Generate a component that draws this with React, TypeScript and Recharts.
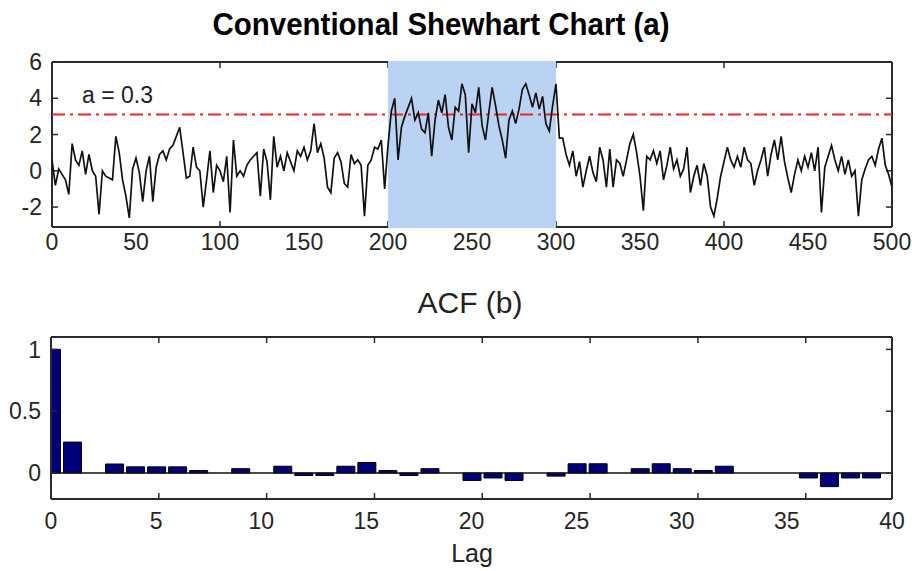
import React from 'react'
import {
  ComposedChart,
  Line,
  Bar,
  XAxis,
  YAxis,
  ReferenceArea,
  ReferenceLine,
} from 'recharts'

// (a) Shewhart chart: one value every 2 samples
const sampleStep = 2
const shewhartValues = [
  0.6, -0.8, 0.1, -0.2, -0.5, -1.3, 1.5, 0.6, 0.3, 1.1,
  -0.2, 0.9, 0.0, -0.3, -2.4, 0.0, -0.3, -0.4, -0.5, 1.9,
  1.0, -0.5, -1.4, -2.6, 0.1, 0.7, -0.1, -1.7, 0.0, 0.8,
  -1.7, 0.2, 0.9, 1.1, 0.6, 1.2, 1.4, 1.9, 2.4, 1.0,
  -0.4, -0.3, 1.3, 0.2, 0.0, -2.0, -0.5, 1.1, -1.2, 0.3,
  0.0, -0.6, 0.8, -2.3, 1.7, -0.3, 0.0, -0.3, 0.3, 0.6,
  0.8, 1.0, -1.4, 1.2, 0.5, -1.6, 1.9, 0.2, 0.8, 0.0,
  1.0, 0.5, 0.0, 1.1, 0.8, 1.3, 0.6, 1.1, 2.6, 1.0,
  1.5, 0.7, -0.9, -1.2, 0.7, 1.0, 0.5, -0.7, -0.9, 0.9,
  0.4, 0.6, 0.3, -2.5, 0.3, 0.6, 1.3, 1.2, 1.7, -1.0,
  1.4, 3.3, 4.0, 0.6, 2.4, 3.0, 3.5, 4.0, 2.8, 3.2,
  2.3, 2.1, 3.2, 0.8, 2.8, 3.9, 3.2, 4.2, 2.4, 1.7,
  3.5, 3.3, 4.8, 4.2, 1.0, 3.7, 3.2, 4.6, 2.5, 1.7,
  3.2, 4.6, 3.6, 2.5, 1.7, 0.7, 2.8, 3.3, 2.6, 3.4,
  4.5, 4.8, 4.2, 3.5, 4.3, 3.4, 4.1, 2.6, 2.2, 3.6,
  4.8, 1.8, 1.8, 0.9, 0.3, 1.1, -0.3, 0.5, -0.9, 0.0,
  0.8, -0.1, -0.6, 1.3, 0.6, -0.9, 1.2, -0.9, 0.6, 0.4,
  -0.3, 0.6, 1.5, 2.0, 1.0, -0.3, -2.2, 0.8, 0.6, 1.1,
  0.4, 1.1, -0.5, 0.3, 1.3, 0.1, 0.6, -0.3, 0.1, 1.3,
  -1.2, -0.3, 0.3, -0.8, 0.4, -0.3, -2.0, -2.5, -1.5, -0.3,
  0.5, 1.3, 0.6, 0.2, 0.8, 0.2, 1.3, 0.6, 0.4, -0.8,
  0.0, 0.6, 1.3, -0.3, 0.9, 1.7, 0.6, 1.9, 0.5, -0.4,
  -1.2, -0.2, 0.6, 0.0, 0.8, 0.2, 1.0, 0.0, 1.3, -2.3,
  0.2, 0.8, 1.4, 0.6, 0.0, 0.8, -0.2, 0.6, -0.3, 0.0,
  -2.5, -0.5, 0.1, 0.6, 0.8, 0.3, 1.2, 1.8, 0.3, -0.2,
  -0.9,
]
const shiftStart = 200
const shiftEnd = 300
const limitA = 3.1
const topXTicks = [0, 50, 100, 150, 200, 250, 300, 350, 400, 450, 500]
const topYTicks = [-2, 0, 2, 4, 6]
const topXDomain: [number, number] = [0, 500]
const topYDomain: [number, number] = [-3.1, 6]

// (b) ACF, lags 0..39
const acfValues = [
  1.0, 0.25, 0, 0.073, 0.05, 0.05, 0.05, 0.02, 0, 0.035,
  0, 0.055, -0.02, -0.02, 0.055, 0.085, 0.02, -0.02, 0.035, 0,
  -0.06, -0.04, -0.06, 0, -0.025, 0.075, 0.075, 0, 0.035, 0.075,
  0.035, 0.02, 0.055, 0, 0, 0, -0.04, -0.11, -0.04, -0.04,
]
const acfXTicks = [0, 5, 10, 15, 20, 25, 30, 35, 40]
const acfYTicks = [0, 0.5, 1]
const acfXDomain: [number, number] = [0, 40]
const acfYDomain: [number, number] = [-0.21, 1.1]

const FONT = '"Liberation Sans", Arial, Helvetica, sans-serif'
const AXIS = '#2a2a2a'
const tickStyle = { fill: '#262626', fontSize: 23, fontFamily: FONT }
const axisLine = { stroke: AXIS, strokeWidth: 2 }
const tickLine = { stroke: AXIS, strokeWidth: 1.5 }
const noLabel = () => <g />

const series = shewhartValues.map((y, i) => ({ t: i * sampleStep, y }))
const acfData = acfValues.map((acf, lag) => ({ lag, acf }))

// MATLAB style box: four mirrored axes give the frame and inward ticks,
// the plain left/bottom axes only carry the labels
function frameAxes(xDomain: [number, number], xTicks: number[], yDomain: [number, number], yTicks: number[]) {
  const common = { tick: noLabel, tickSize: 6, axisLine, tickLine, mirror: true, type: 'number' as const, interval: 0 }
  return [
    <XAxis key="fb" xAxisId="fb" orientation="bottom" domain={xDomain} ticks={xTicks} allowDataOverflow {...common} />,
    <XAxis key="ft" xAxisId="ft" orientation="top" domain={xDomain} ticks={xTicks} allowDataOverflow {...common} />,
    <YAxis key="fl" yAxisId="fl" orientation="left" domain={yDomain} ticks={yTicks} allowDataOverflow {...common} />,
    <YAxis key="fr" yAxisId="fr" orientation="right" domain={yDomain} ticks={yTicks} allowDataOverflow {...common} />,
  ]
}

export default function App() {
  return (
    <div style={{ position: 'absolute', left: 0, top: 0, width: 912, height: 571, background: '#fff' }}>
      <div style={{ position: 'absolute', left: 0, top: 0 }}>
        <ComposedChart width={912} height={262} data={series} margin={{ top: 62, right: 20, bottom: 0, left: 0 }}>
          <XAxis
            dataKey="t" type="number" domain={topXDomain} ticks={topXTicks} interval={0}
            height={35} tickSize={0} tickMargin={7} allowDataOverflow
            axisLine={false} tickLine={false} tick={tickStyle}
          />
          <YAxis
            type="number" domain={topYDomain} ticks={topYTicks} interval={0} width={52}
            tickSize={0} tickMargin={10} allowDataOverflow
            axisLine={false} tickLine={false} tick={tickStyle}
          />
          {frameAxes(topXDomain, topXTicks, topYDomain, topYTicks)}
          <ReferenceArea
            x1={shiftStart} x2={shiftEnd} y1={-3.16} y2={6.06}
            fill="#bad3f2" fillOpacity={1} stroke="none" ifOverflow="visible" zIndex={600}
          />
          <ReferenceLine
            y={limitA} stroke="#e8262a" strokeWidth={2} strokeDasharray="13 5 3 5" zIndex={650}
          />
          <Line
            dataKey="y" type="linear" stroke="#111" strokeWidth={1.7} dot={false}
            activeDot={false} isAnimationActive={false} zIndex={700}
          />
        </ComposedChart>
      </div>

      <div style={{ position: 'absolute', left: 0, top: 280 }}>
        <ComposedChart width={912} height={291} data={acfData} margin={{ top: 57, right: 20, bottom: 0, left: 0 }}>
          <XAxis
            dataKey="lag" type="number" domain={acfXDomain} ticks={acfXTicks} interval={0}
            height={72} tickSize={0} tickMargin={14} allowDataOverflow
            axisLine={false} tickLine={false} tick={tickStyle}
          />
          <YAxis
            type="number" domain={acfYDomain} ticks={acfYTicks} interval={0} width={51}
            tickSize={0} tickMargin={10} allowDataOverflow
            axisLine={false} tickLine={false} tick={tickStyle}
          />
          {frameAxes(acfXDomain, acfXTicks, acfYDomain, acfYTicks)}
          <ReferenceLine y={0} stroke="#111" strokeWidth={1.5} />
          <Bar
            dataKey="acf" fill="#00007a" stroke="#000" strokeWidth={1}
            barSize={18} isAnimationActive={false}
          />
        </ComposedChart>
      </div>

      <svg width={912} height={571} style={{ position: 'absolute', left: 0, top: 0, pointerEvents: 'none' }}>
        <text
          x={441} y={35} textAnchor="middle" fontFamily={FONT} fontWeight="bold" fontSize={32}
          textLength={457} lengthAdjust="spacingAndGlyphs" fill="#000"
        >
          Conventional Shewhart Chart (a)
        </text>
        <text x={82} y={103} fontFamily={FONT} fontSize={23} fill="#222">a = 0.3</text>
        <text x={470} y={313} textAnchor="middle" fontFamily={FONT} fontSize={30} fill="#222">ACF (b)</text>
        <text x={472} y={562} textAnchor="middle" fontFamily={FONT} fontSize={25} fill="#222">Lag</text>
      </svg>
    </div>
  )
}
